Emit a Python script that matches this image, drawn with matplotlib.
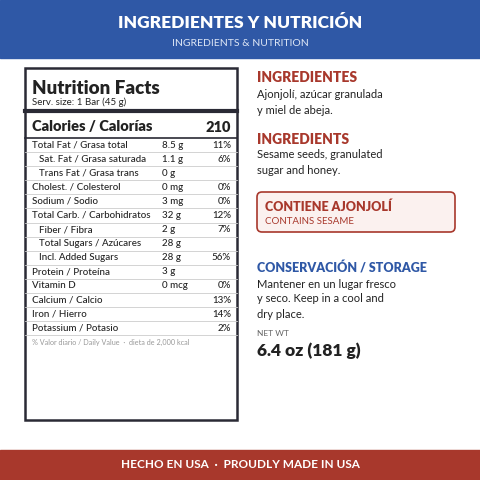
import matplotlib
matplotlib.use("Agg")
import matplotlib.pyplot as plt
from matplotlib.patches import Rectangle, FancyBboxPatch

plt.rcParams['font.family'] = ['Lato', 'DejaVu Sans']

labels = ["Total Fat / Grasa total", "Sat. Fat / Grasa saturada", "Trans Fat / Grasa trans",
          "Cholest. / Colesterol", "Sodium / Sodio", "Total Carb. / Carbohidratos",
          "Fiber / Fibra", "Total Sugars / Azúcares", "Incl. Added Sugars",
          "Protein / Proteína", "Vitamin D", "Calcium / Calcio", "Iron / Hierro",
          "Potassium / Potasio"]
amounts = ["8.5 g", "1.1 g", "0 g", "0 mg", "3 mg", "32 g", "2 g", "28 g", "28 g",
           "3 g", "0 mcg", "", "", ""]
percents = ["11%", "6%", "", "0%", "0%", "12%", "7%", "", "56%", "", "0%", "13%", "14%", "2%"]
indent = [0, 1, 1, 0, 0, 0, 1, 1, 1, 0, 0, 0, 0, 0]
calories = 210

BLUE = "#2f58a6"
RED = "#a8382c"
DARK = "#222222"

fig = plt.figure(figsize=(4.8, 4.8), dpi=100)
ax = fig.add_axes([0, 0, 1, 1])
ax.set_xlim(0, 480)
ax.set_ylim(480, 0)
ax.axis("off")

ax.add_patch(Rectangle((0, 0), 480, 58, color=BLUE))
ax.text(240, 23, "INGREDIENTES Y NUTRICIÓN", color="white", fontsize=12.5, weight="heavy", ha="center", va="center")
ax.text(240, 43, "INGREDIENTS & NUTRITION", color="#dde6f5", fontsize=7.5, ha="center", va="center")

ax.add_patch(Rectangle((0, 450), 480, 30, color=RED))
ax.text(240, 465, "HECHO EN USA  ·  PROUDLY MADE IN USA", color="white", fontsize=8.5, weight="bold", ha="center", va="center")

# nutrition box
ax.add_patch(Rectangle((25, 68), 212, 352, fill=False, ec="#2a2a35", lw=1.8))
ax.text(32, 88, "Nutrition Facts", fontsize=13.5, weight="heavy", color=DARK, va="center")
ax.text(32, 102, "Serv. size: 1 Bar (45 g)", fontsize=7, color=DARK, va="center")
ax.plot([25, 237], [111, 111], color="#2a2a35", lw=3)
ax.text(32, 127, "Calories / Calorías", fontsize=10.5, weight="heavy", color=DARK, va="center")
ax.text(231, 127, str(calories), fontsize=10.5, weight="heavy", color=DARK, va="center", ha="right")
ax.plot([25, 237], [138, 138], color="#2a2a35", lw=1.2)
y0, dy = 145, 14.1
for i, (l, a, p, ind) in enumerate(zip(labels, amounts, percents, indent)):
    y = y0 + i * dy
    ax.text(32 + 7 * ind, y, l, fontsize=7, color=DARK, va="center", weight="medium")
    ax.text(162, y, a, fontsize=7, color=DARK, va="center", weight="medium")
    ax.text(231, y, p, fontsize=7, color=DARK, va="center", ha="right", weight="medium")
    ax.plot([25, 237], [y + 7, y + 7], color="#cccccc", lw=0.6)
ax.text(32, y0 + len(labels) * dy, "% Valor diario / Daily Value  ·  dieta de 2,000 kcal",
        fontsize=5.2, color="#999999", va="center")

# right column
X = 257
ax.text(X, 77, "INGREDIENTES", fontsize=10, weight="heavy", color=RED, va="center")
ax.text(X, 95, "Ajonjolí, azúcar granulada", fontsize=8, color=DARK, va="center")
ax.text(X, 110, "y miel de abeja.", fontsize=8, color=DARK, va="center")
ax.text(X, 139, "INGREDIENTS", fontsize=10, weight="heavy", color=RED, va="center")
ax.text(X, 155, "Sesame seeds, granulated", fontsize=8, color=DARK, va="center")
ax.text(X, 170, "sugar and honey.", fontsize=8, color=DARK, va="center")

ax.add_patch(FancyBboxPatch((257, 192), 198, 40, boxstyle="round,pad=0,rounding_size=5",
                            fc="#fbf1ef", ec=RED, lw=1.2))
ax.text(265, 207, "CONTIENE AJONJOLÍ", fontsize=9, weight="heavy", color=RED, va="center")
ax.text(265, 222, "CONTAINS SESAME", fontsize=7, color=RED, va="center")

ax.text(X, 268, "CONSERVACIÓN / STORAGE", fontsize=9, weight="heavy", color=BLUE, va="center")
ax.text(X, 284, "Mantener en un lugar fresco", fontsize=8, color=DARK, va="center")
ax.text(X, 299, "y seco. Keep in a cool and", fontsize=8, color=DARK, va="center")
ax.text(X, 314, "dry place.", fontsize=8, color=DARK, va="center")
ax.text(X, 333, "NET WT", fontsize=6, color="#666666", va="center")
ax.text(X, 351, "6.4 oz (181 g)", fontsize=12.5, weight="heavy", color=DARK, va="center")

fig.savefig("out.png", dpi=100, facecolor="white")
